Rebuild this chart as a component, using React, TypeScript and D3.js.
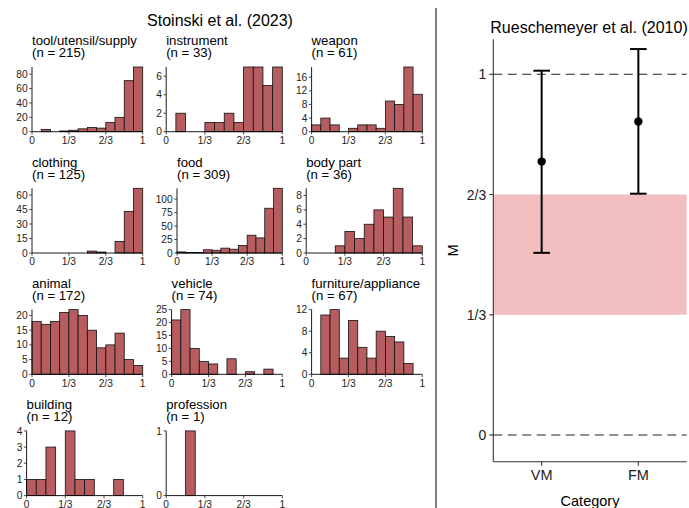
import React from "react";
import * as d3 from "d3";

const W = 689;
const H = 508;
const FONT = "'Liberation Sans', Arial, Helvetica, sans-serif";

// ---------- Left panel data (Stoinski et al. 2023) ----------
const categories = [
  "tool/utensil/supply",
  "instrument",
  "weapon",
  "clothing",
  "food",
  "body part",
  "animal",
  "vehicle",
  "furniture/appliance",
  "building",
  "profession",
];
const sampleSizes = [215, 33, 61, 125, 309, 36, 172, 74, 67, 12, 1];

// counts in 12 equal-width bins from 0 to 1
const binCounts = [
  [0, 3, 0, 1, 2, 4, 6, 5, 13, 20, 71, 90],
  [0, 2, 0, 0, 1, 1, 2, 1, 7, 7, 5, 7],
  [2, 4, 2, 0, 1, 2, 2, 1, 9, 8, 19, 11],
  [0, 0, 0, 0, 0, 0, 2, 1, 0, 12, 43, 67],
  [2, 1, 1, 6, 5, 9, 7, 14, 33, 28, 83, 120],
  [0, 0, 0, 1, 3, 2, 4, 6, 5, 9, 5, 1],
  [18, 17, 18, 21, 22, 20, 15, 9, 10, 14, 5, 3],
  [21, 25, 10, 5, 4, 0, 6, 0, 1, 0, 2, 0],
  [0, 11, 12, 3, 10, 5, 3, 8, 7, 6, 2, 0],
  [1, 1, 3, 0, 4, 1, 1, 0, 0, 1, 0, 0],
  [0, 0, 1, 0, 0, 0, 0, 0, 0, 0, 0, 0],
];
const yTicks = [
  [0, 20, 40, 60, 80],
  [0, 2, 4, 6],
  [0, 4, 8, 12, 16],
  [0, 15, 30, 45, 60],
  [0, 25, 50, 75, 100],
  [0, 2, 4, 6, 8],
  [0, 5, 10, 15, 20],
  [0, 5, 10, 15, 20, 25],
  [0, 4, 8, 12],
  [0, 1, 2, 3, 4],
  [0, 1],
];
const xTickValues = [0, 1 / 3, 2 / 3, 1];
const xTickLabels = ["0", "1/3", "2/3", "1"];
const NBINS = 12;

// ---------- Right panel data (Rueschemeyer et al. 2010) ----------
const groups = ["VM", "FM"];
const groupMeans = [0.758, 0.869];
const groupLower = [0.505, 0.669];
const groupUpper = [1.01, 1.07];
const refLines = [0, 1];
const bandRange = [1 / 3, 2 / 3];
const rightTickValues = [0, 1 / 3, 2 / 3, 1];
const rightTickLabels = ["0", "1/3", "2/3", "1"];

const BAR_FILL = "#b75d60";
const BAND_FILL = "#f2bec0";

function Histogram({ idx }: { idx: number }) {
  const col = idx % 3;
  const row = Math.floor(idx / 3);
  const colLeft = [21.2, 160.8, 300.8][col];
  const right = [142.7, 282.3, 422.3][col];
  const top = 67 + row * 121.3;
  const bottom = top + 64.7;
  const ticks = yTicks[idx];
  const maxLen = d3.max(ticks, (t) => String(t).length) as number;
  const x0 = colLeft + maxLen * 5.4;
  const counts = binCounts[idx];
  const x = d3.scaleLinear().domain([0, 1]).range([x0, right]);
  const y = d3
    .scaleLinear()
    .domain([0, d3.max(counts) as number])
    .range([bottom, top]);
  return (
    <g>
      <text x={x0} y={top - 21.8} fontSize={13.2} fill="#000">
        {categories[idx]}
      </text>
      <text x={x0} y={top - 9.6} fontSize={13.2} fill="#000">
        {`(n = ${sampleSizes[idx]})`}
      </text>
      {counts.map((c, i) => {
        const xa = x(i / NBINS);
        const xb = x((i + 1) / NBINS);
        return (
          <rect
            key={i}
            x={xa}
            y={y(c)}
            width={xb - xa}
            height={bottom - y(c)}
            fill={BAR_FILL}
            stroke="#111"
            strokeWidth={0.8}
          />
        );
      })}
      <line x1={x0} x2={x0} y1={top} y2={bottom} stroke="#000" strokeWidth={0.9} />
      <line x1={x0} x2={right} y1={bottom} y2={bottom} stroke="#000" strokeWidth={0.9} />
      {ticks.map((t) => (
        <g key={"y" + t}>
          <line x1={x0 - 2.7} x2={x0} y1={y(t)} y2={y(t)} stroke="#333" strokeWidth={0.9} />
          <text x={x0 - 4.3} y={y(t) + 3.6} fontSize={10.2} textAnchor="end" fill="#222">
            {t}
          </text>
        </g>
      ))}
      {xTickValues.map((v, i) => (
        <g key={"x" + i}>
          <line x1={x(v)} x2={x(v)} y1={bottom} y2={bottom + 2.7} stroke="#333" strokeWidth={0.9} />
          <text x={x(v)} y={bottom + 12.3} fontSize={10.2} textAnchor="middle" fill="#222">
            {xTickLabels[i]}
          </text>
        </g>
      ))}
    </g>
  );
}

function RightPanel() {
  const left = 493.3;
  const right = 686.7;
  const axisTop = 39.3;
  const axisBottom = 461.7;
  const y = d3.scaleLinear().domain([0, 1]).range([435, 74.3]);
  const x = d3.scalePoint<string>().domain(groups).range([left, right]).padding(0.5);
  return (
    <g>
      <text x={589} y={32.5} fontSize={16} textAnchor="middle" fill="#000">
        Rueschemeyer et al. (2010)
      </text>
      <rect
        x={left}
        y={y(bandRange[1])}
        width={right - left}
        height={y(bandRange[0]) - y(bandRange[1])}
        fill={BAND_FILL}
      />
      {refLines.map((v) => (
        <line
          key={v}
          x1={left}
          x2={right}
          y1={y(v)}
          y2={y(v)}
          stroke="#222"
          strokeWidth={1.1}
          strokeDasharray="9,5.5"
        />
      ))}
      {groups.map((g, i) => {
        const cx = x(g) as number;
        return (
          <g key={g}>
            <line x1={cx} x2={cx} y1={y(groupUpper[i])} y2={y(groupLower[i])} stroke="#000" strokeWidth={2} />
            <line x1={cx - 8.3} x2={cx + 8.3} y1={y(groupUpper[i])} y2={y(groupUpper[i])} stroke="#000" strokeWidth={2} />
            <line x1={cx - 8.3} x2={cx + 8.3} y1={y(groupLower[i])} y2={y(groupLower[i])} stroke="#000" strokeWidth={2} />
            <circle cx={cx} cy={y(groupMeans[i])} r={4.2} fill="#000" />
          </g>
        );
      })}
      <line x1={left} x2={left} y1={axisTop} y2={axisBottom} stroke="#333" strokeWidth={1.1} />
      <line x1={left} x2={right} y1={axisBottom} y2={axisBottom} stroke="#333" strokeWidth={1.1} />
      {rightTickValues.map((v, i) => (
        <g key={"ry" + i}>
          <line x1={left - 4} x2={left} y1={y(v)} y2={y(v)} stroke="#333" strokeWidth={1.1} />
          <text x={left - 7} y={y(v) + 5} fontSize={14} textAnchor="end" fill="#222">
            {rightTickLabels[i]}
          </text>
        </g>
      ))}
      {groups.map((g) => {
        const cx = x(g) as number;
        return (
          <g key={"rx" + g}>
            <line x1={cx} x2={cx} y1={axisBottom} y2={axisBottom + 4} stroke="#333" strokeWidth={1.1} />
            <text x={cx} y={480} fontSize={14.5} textAnchor="middle" fill="#222">
              {g}
            </text>
          </g>
        );
      })}
      <text
        transform={`translate(458, ${(axisTop + axisBottom) / 2}) rotate(-90)`}
        fontSize={14.5}
        textAnchor="middle"
        fill="#000"
      >
        M
      </text>
      <text x={(left + right) / 2} y={505.5} fontSize={14.5} textAnchor="middle" fill="#000">
        Category
      </text>
    </g>
  );
}

export default function App() {
  return (
    <svg
      width={W}
      height={H}
      viewBox={`0 0 ${W} ${H}`}
      style={{ position: "absolute", left: 0, top: 0, background: "#fff", fontFamily: FONT }}
    >
      <rect x={0} y={0} width={W} height={H} fill="#fff" />
      <text x={220} y={26} fontSize={16} textAnchor="middle" fill="#000">
        Stoinski et al. (2023)
      </text>
      {categories.map((_, i) => (
        <Histogram key={i} idx={i} />
      ))}
      <line x1={436} x2={436} y1={8} y2={H} stroke="#000" strokeWidth={1} />
      <RightPanel />
    </svg>
  );
}
